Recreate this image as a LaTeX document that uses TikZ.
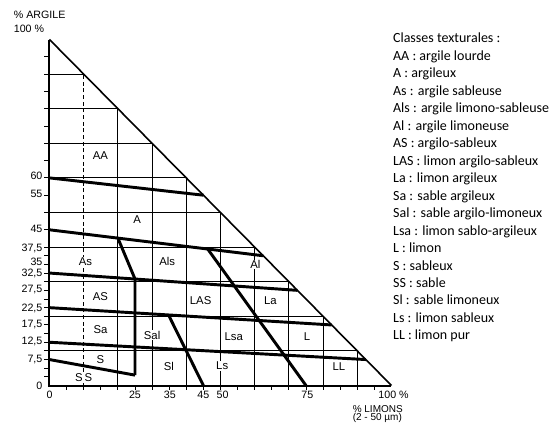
\documentclass[tikz,border=0pt]{standalone}
\usepackage{fontspec}
\setmainfont{Liberation Sans}
\newfontfamily\legendfont{Carlito}
\usetikzlibrary{positioning}
\tikzset{
  gridline/.style={line width=0.7pt},
  limit/.style={line width=2.2pt},
  frame/.style={line width=1.5pt},
  zone/.style={font=\fontsize{8.5}{10}\selectfont, fill=white, inner sep=0.6pt},
  ticklab/.style={font=\fontsize{8}{9}\selectfont, inner sep=0pt},
  axistitle/.style={font=\fontsize{8}{9}\selectfont, inner sep=0pt, anchor=west},
  entry/.style={font=\legendfont\fontsize{10.5}{12}\selectfont, inner sep=0pt, text height=7pt, text depth=2.5pt}
}

\begin{document}
\begin{tikzpicture}[x=2.565pt, y=2.595pt]
\useasboundingbox (-14.47,-12.86) rectangle (147.52,111.42);
\coordinate (o) at (0,0);
\coordinate (xmax) at (100,0);
\coordinate (ymax) at (0,100);

\foreach \v in {20,30,...,90} {
  \draw[gridline] (\v,0) -- (\v,{100-\v});
  \draw[gridline] (0,\v) -- ({100-\v},\v);
}
\draw[gridline] (0,10) -- (90,10);
\draw[gridline, dash pattern=on 3pt off 2pt] (10,0) -- (10,90);
\draw[gridline, dash pattern=on 3pt off 2pt] (0,40) -- (60,40);
\foreach \v in {5,10,...,95}
  \draw[gridline] (\v,0) -- (\v,-1.3);
\foreach \v in {2.5,5,...,40}
  \draw[gridline] (0,\v) -- (-1.5,\v);
\foreach \v in {45,50,...,95}
  \draw[gridline] (0,\v) -- (-1.5,\v);
\draw[frame] (ymax) -- (o) -- (xmax);
\draw[line width=1.2pt] (ymax) -- (xmax);

\coordinate (a1) at (0,60);
\coordinate (a2) at (45,55);
\coordinate (b1) at (0,45);
\coordinate (b2) at (62.5,37.5);
\coordinate (c1) at (0,32.5);
\coordinate (c2) at (72.5,27.5);
\coordinate (d1) at (0,22.5);
\coordinate (d2) at (82.5,17.5);
\coordinate (e1) at (0,12.5);
\coordinate (e2) at (92.5,7.5);
\coordinate (f1) at (0,7.5);
\coordinate (f2) at (25,3);
\coordinate (k1) at (20,42.6);
\coordinate (k2) at (25,30.8);
\coordinate (g1) at (34.8,20.4);
\coordinate (g2) at (45,0);
\coordinate (h1) at (46.3,39.4);
\coordinate (h2) at (75,0);
\draw[limit] (a1) -- (a2);
\draw[limit] (b1) -- (b2);
\draw[limit] (c1) -- (c2);
\draw[limit] (d1) -- (d2);
\draw[limit] (e1) -- (e2);
\draw[limit] (f1) -- (f2);
\draw[limit] (k1) -- (k2) -- (f2);
\draw[limit] (g1) -- (g2);
\draw[limit] (h1) -- (h2);

\node[zone] (aa) at (14.9,66.5) {AA};
\node[zone] (a) at (25.6,48) {A};
\node[zone] (as) at (10.5,35.9) {As};
\node[zone] (als) at (34.4,35.9) {Als};
\node[zone] (al) at (60.2,35) {Al};
\node[zone] (asb) at (14.9,25.8) {AS};
\node[zone] (las) at (44.2,24.4) {LAS};
\node[zone] (la) at (64.6,24.4) {La};
\node[zone] (sa) at (14.9,16.2) {Sa};
\node[zone] (sal) at (30,14.5) {Sal};
\node[zone] (lsa) at (53.9,14.2) {Lsa};
\node[zone] (l) at (75.3,14.2) {L};
\node[zone] (s) at (14.9,7.5) {S};
\node[zone] (ss) at (10,2.2) {S\,S};
\node[zone] (sl) at (34.9,5.6) {Sl};
\node[zone] (ls) at (50.5,5.6) {Ls};
\node[zone] (ll) at (84.6,5.6) {LL};

\node[ticklab, anchor=east] (y60) at (-2,60.5) {60};
\node[ticklab, anchor=east] (y55) at (-2,55.4) {55};
\node[ticklab, anchor=east] (y45) at (-2,45.2) {45};
\node[ticklab, anchor=east] (y375) at (-2,39.6) {37,5};
\node[ticklab, anchor=east] (y35) at (-2,35.8) {35};
\node[ticklab, anchor=east] (y325) at (-2,32.4) {32,5};
\node[ticklab, anchor=east] (y275) at (-2,27.7) {27,5};
\node[ticklab, anchor=east] (y225) at (-2,22.3) {22,5};
\node[ticklab, anchor=east] (y175) at (-2,17.6) {17,5};
\node[ticklab, anchor=east] (y125) at (-2,12.7) {12,5};
\node[ticklab, anchor=east] (y75) at (-2,7.5) {7,5};
\node[ticklab, anchor=east] (y0) at (-2,0) {0};
\node[ticklab] (x0) at (0,-2.8) {0};
\node[ticklab] (x25) at (25,-2.8) {25};
\node[ticklab] (x35) at (35.2,-2.8) {35};
\node[ticklab] (x45) at (45,-2.8) {45};
\node[ticklab] (x50) at (50.6,-2.8) {50};
\node[ticklab] (x75) at (75.4,-2.8) {75};
\node[ticklab] (x100) at (100.6,-2.8) {100 \%};

\node[axistitle] (argile) at (-10.5,107.2) {\% ARGILE};
\node[axistitle] (argmax) at (-10.5,103.2) {100 \%};
\node[axistitle, font=\fontsize{7.5}{8}\selectfont] (limons) at (88.6,-6.9) {\% LIMONS};
\node[axistitle, font=\fontsize{7.5}{8}\selectfont] (taille) at (88.6,-9.5) {(2 - 50 µm)};

\node[entry, anchor=base west] (cls) at (100.4,99) {Classes texturales :};
\node[entry, below right=3.2pt and 0pt of cls.south west] (laa) {AA : argile lourde};
\node[entry, below right=3.2pt and 0pt of laa.south west] (la1) {A : argileux};
\node[entry, below right=3.2pt and 0pt of la1.south west] (las1) {As : argile sableuse};
\node[entry, below right=3.2pt and 0pt of las1.south west] (lals) {Als : argile limono-sableuse};
\node[entry, below right=3.2pt and 0pt of lals.south west] (lal) {Al : argile limoneuse};
\node[entry, below right=3.2pt and 0pt of lal.south west] (las2) {AS : argilo-sableux};
\node[entry, below right=3.2pt and 0pt of las2.south west] (llas) {LAS : limon argilo-sableux};
\node[entry, below right=3.2pt and 0pt of llas.south west] (lla) {La : limon argileux};
\node[entry, below right=3.2pt and 0pt of lla.south west] (lsa1) {Sa : sable argileux};
\node[entry, below right=3.2pt and 0pt of lsa1.south west] (lsal) {Sal : sable argilo-limoneux};
\node[entry, below right=3.2pt and 0pt of lsal.south west] (llsa) {Lsa : limon sablo-argileux};
\node[entry, below right=3.2pt and 0pt of llsa.south west] (ll1) {L : limon};
\node[entry, below right=3.2pt and 0pt of ll1.south west] (ls1) {S : sableux};
\node[entry, below right=3.2pt and 0pt of ls1.south west] (lss) {SS : sable};
\node[entry, below right=3.2pt and 0pt of lss.south west] (lsl) {Sl : sable limoneux};
\node[entry, below right=3.2pt and 0pt of lsl.south west] (lls) {Ls : limon sableux};
\node[entry, below right=3.2pt and 0pt of lls.south west] (lll) {LL : limon pur};
\end{tikzpicture}
\end{document}
